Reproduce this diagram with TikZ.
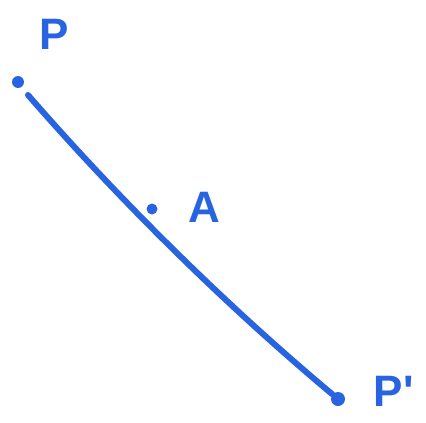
\documentclass[tikz,border=0pt]{standalone}
\usepackage{fontspec}
\setsansfont{Liberation Sans}
\usetikzlibrary{calc}

\definecolor{penblue}{RGB}{40,100,225}

\begin{document}
\begin{tikzpicture}[x=1pt, y=-1pt, thick]
  \useasboundingbox (0,0) rectangle (426,423);
  \tikzset{
    pt/.style={circle, fill=penblue, inner sep=0pt, minimum size=12pt},
    lbl/.style={text=penblue, font=\sffamily\bfseries\fontsize{44}{46}\selectfont}
  }

  % points
  \node[pt] (P) at (18,82) {};
  \node[pt, minimum size=11pt] (A) at (152,209) {};
  \node[pt, minimum size=14pt] (Pp) at (338,399) {};

  % segment P -- P'
  \draw[penblue, line width=6pt, line cap=round]
    ($(P)+(10,13)$) .. controls (123,204) and (227,306) .. (Pp);

  \node[lbl] (Plbl) at (54,34) {P};
  \node[lbl] (Albl) at (204,207) {A};
  \node[lbl, anchor=west] (Pplbl) at (370,391) {P\textquotesingle};
\end{tikzpicture}
\end{document}
